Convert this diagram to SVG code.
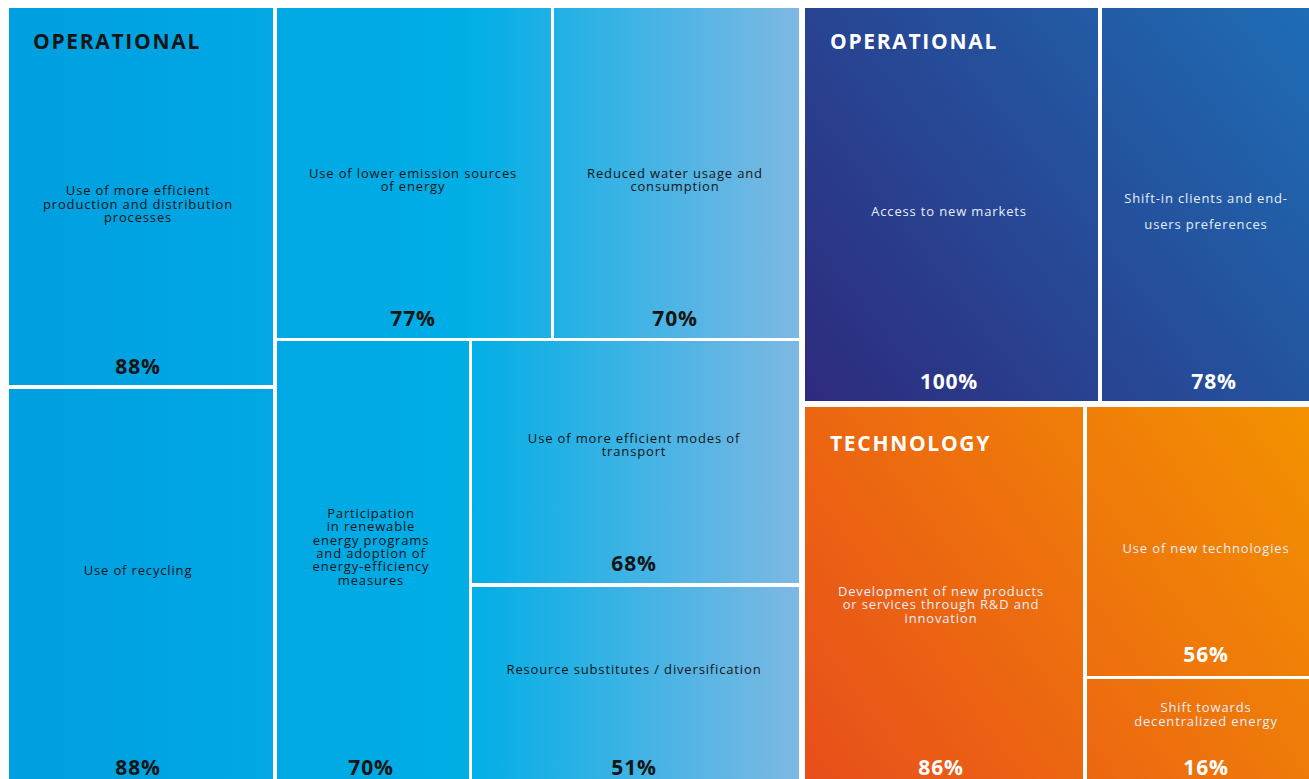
<svg xmlns="http://www.w3.org/2000/svg" width="1309" height="779" viewBox="0 0 1309 779">
<defs>
<linearGradient id="gBlue" gradientUnits="userSpaceOnUse" x1="9" y1="0" x2="799" y2="0">
<stop offset="0" stop-color="#009fe0"/>
<stop offset="0.58" stop-color="#00aee6"/>
<stop offset="1" stop-color="#7db8e3"/>
</linearGradient>
<linearGradient id="gNavy" gradientUnits="userSpaceOnUse" x1="805" y1="401" x2="1309" y2="8">
<stop offset="0" stop-color="#2e2a7c"/>
<stop offset="1" stop-color="#1e6db5"/>
</linearGradient>
<linearGradient id="gOrange" gradientUnits="userSpaceOnUse" x1="805" y1="779" x2="1309" y2="407">
<stop offset="0" stop-color="#e84e1b"/>
<stop offset="1" stop-color="#f39200"/>
</linearGradient>
</defs>
<style>
.b{fill:url(#gBlue)}
.n{fill:url(#gNavy)}
.o{fill:url(#gOrange)}
text{font-family:"Open Sans","Liberation Sans",sans-serif;text-anchor:middle}
.t{font-size:13px;letter-spacing:0.85px}
.p{font-size:21px;font-weight:700;letter-spacing:0.8px}
.h{font-size:21px;font-weight:700;letter-spacing:1.7px;text-anchor:start}
.dk{fill:#151515}
.wh{fill:#ffffff}
.lt{fill:#e6eef8}
</style>
<rect width="1309" height="779" fill="#ffffff"/>
<g id="n-production">
<rect class="b" x="9" y="8" width="264" height="377"/>
<text class="h dk" x="33" y="49">OPERATIONAL</text>
<text class="t dk" x="138" y="195">Use of more efficient</text>
<text class="t dk" x="138" y="209">production and distribution</text>
<text class="t dk" x="138" y="222">processes</text>
<text class="p dk" x="138" y="374">88%</text>
</g>
<g id="n-recycling">
<rect class="b" x="9" y="389" width="264" height="390"/>
<text class="t dk" x="138" y="575">Use of recycling</text>
<text class="p dk" x="138" y="775">88%</text>
</g>
<g id="n-emission">
<rect class="b" x="277" y="8" width="274" height="330"/>
<text class="t dk" x="413" y="178">Use of lower emission sources</text>
<text class="t dk" x="413" y="191">of energy</text>
<text class="p dk" x="413" y="326">77%</text>
</g>
<g id="n-water">
<rect class="b" x="554" y="8" width="245" height="330"/>
<text class="t dk" x="675" y="178">Reduced water usage and</text>
<text class="t dk" x="675" y="191">consumption</text>
<text class="p dk" x="675" y="326">70%</text>
</g>
<g id="n-renewable">
<rect class="b" x="277" y="341" width="192" height="438"/>
<text class="t dk" x="371" y="518">Participation</text>
<text class="t dk" x="371" y="531">in renewable</text>
<text class="t dk" x="371" y="545">energy programs</text>
<text class="t dk" x="371" y="558">and adoption of</text>
<text class="t dk" x="371" y="571">energy-efficiency</text>
<text class="t dk" x="371" y="585">measures</text>
<text class="p dk" x="371" y="775">70%</text>
</g>
<g id="n-transport">
<rect class="b" x="472" y="341" width="327" height="242"/>
<text class="t dk" x="634" y="443">Use of more efficient modes of</text>
<text class="t dk" x="634" y="456">transport</text>
<text class="p dk" x="634" y="571">68%</text>
</g>
<g id="n-resource">
<rect class="b" x="472" y="587" width="327" height="192"/>
<text class="t dk" x="634" y="674">Resource substitutes / diversification</text>
<text class="p dk" x="634" y="775">51%</text>
</g>
<g id="n-markets">
<rect class="n" x="805" y="8" width="293" height="393"/>
<text class="h wh" x="830" y="49">OPERATIONAL</text>
<text class="t lt" x="949" y="216">Access to new markets</text>
<text class="p wh" x="949" y="389">100%</text>
</g>
<g id="n-clients">
<rect class="n" x="1102" y="8" width="207" height="393"/>
<text class="t lt" x="1206" y="203">Shift-in clients and end-</text>
<text class="t lt" x="1206" y="229">users preferences</text>
<text class="p wh" x="1214" y="389">78%</text>
</g>
<g id="n-development">
<rect class="o" x="805" y="407" width="278" height="372"/>
<text class="h wh" x="830" y="451">TECHNOLOGY</text>
<text class="t lt" x="941" y="596">Development of new products</text>
<text class="t lt" x="941" y="609">or services through R&amp;D and</text>
<text class="t lt" x="941" y="623">innovation</text>
<text class="p wh" x="941" y="775">86%</text>
</g>
<g id="n-newtech">
<rect class="o" x="1087" y="407" width="222" height="269"/>
<text class="t lt" x="1206" y="553">Use of new technologies</text>
<text class="p wh" x="1206" y="662">56%</text>
</g>
<g id="n-decentral">
<rect class="o" x="1087" y="679" width="222" height="100"/>
<text class="t lt" x="1206" y="712">Shift towards</text>
<text class="t lt" x="1206" y="726">decentralized energy</text>
<text class="p wh" x="1206" y="775">16%</text>
</g>
<g id="connectors"/>
</svg>
